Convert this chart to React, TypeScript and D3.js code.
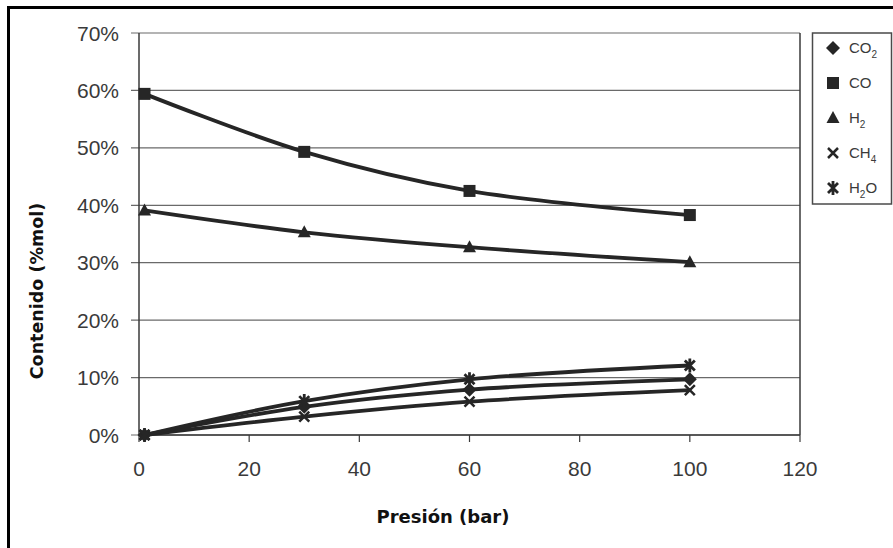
import React from "react";
import * as d3 from "d3";

// presión (bar)
const pressure = [1, 30, 60, 100];
// contenido (%mol)
const co2 = [0, 4.9, 7.9, 9.7];
const co = [59.4, 49.3, 42.5, 38.3];
const h2 = [39.1, 35.3, 32.7, 30.1];
const ch4 = [0, 3.2, 5.8, 7.8];
const h2o = [0, 5.9, 9.7, 12.1];

const xTicks = [0, 20, 40, 60, 80, 100, 120];
const yTicks = [0, 10, 20, 30, 40, 50, 60, 70];

const seriesList = [
  { name: "CO", sub: "2", values: co2, marker: "diamond" },
  { name: "CO", sub: "", values: co, marker: "square" },
  { name: "H", sub: "2", values: h2, marker: "triangle" },
  { name: "CH", sub: "4", values: ch4, marker: "cross" },
  { name: "H", sub: "2", tail: "O", values: h2o, marker: "star" },
];

const ink = "#262626";

const Marker = ({ type, x, y }: { type: string; x: number; y: number }) => {
  if (type === "diamond")
    return <path d="M0,-7L7,0L0,7L-7,0Z" transform={`translate(${x},${y})`} fill={ink} />;
  if (type === "square")
    return <rect x={x - 6} y={y - 6} width={12} height={12} fill={ink} />;
  if (type === "triangle")
    return <path d="M0,-7L6.5,5L-6.5,5Z" transform={`translate(${x},${y})`} fill={ink} />;
  if (type === "cross")
    return (
      <path d="M-5,-5L5,5M-5,5L5,-5" transform={`translate(${x},${y})`} stroke={ink} strokeWidth={2.5} fill="none" />
    );
  return (
    <path
      d="M-5,-5L5,5M-5,5L5,-5M0,-7L0,7"
      transform={`translate(${x},${y})`}
      stroke={ink}
      strokeWidth={2.8}
      fill="none"
    />
  );
};

export default function App() {
  const left = 139, right = 800, top = 33, bottom = 435;
  const x = d3.scaleLinear().domain([0, 120]).range([left, right]);
  const y = d3.scaleLinear().domain([0, 70]).range([bottom, top]);
  const line = d3
    .line<[number, number]>()
    .x((d) => x(d[0]))
    .y((d) => y(d[1]))
    .curve(d3.curveCatmullRom.alpha(0.5));

  const tickFont = { fontFamily: "Liberation Sans, Arial, sans-serif", fontSize: 21, fill: "#3a3a3a" };
  const legendFont = { fontFamily: "Liberation Sans, Arial, sans-serif", fontSize: 15, fill: "#3a3a3a" };

  return (
    <svg width={893} height={548} style={{ position: "absolute", left: 0, top: 0, background: "#fff" }}>
      <rect x={8.5} y={7.5} width={900} height={560} fill="none" stroke="#000" strokeWidth={3} />

      {/* grid + y axis */}
      {yTicks.map((t) => (
        <g key={t}>
          <line x1={131} x2={right} y1={y(t)} y2={y(t)} stroke="#6a6a6a" strokeWidth={1.2} />
          <text x={119} y={y(t)} dy="0.36em" textAnchor="end" {...tickFont}>
            {t}%
          </text>
        </g>
      ))}
      <line x1={left} x2={left} y1={top} y2={bottom} stroke="#3a3a3a" strokeWidth={1.5} />
      <line x1={right} x2={right} y1={top} y2={bottom} stroke="#3a3a3a" strokeWidth={1.5} />
      <line x1={left} x2={right} y1={bottom} y2={bottom} stroke="#3a3a3a" strokeWidth={1.5} />

      {/* x axis */}
      {xTicks.map((t) => (
        <g key={t}>
          <line x1={x(t)} x2={x(t)} y1={bottom} y2={bottom + 7} stroke="#3a3a3a" strokeWidth={1.2} />
          <text x={x(t)} y={468} dy="0.36em" textAnchor="middle" {...tickFont}>
            {t}
          </text>
        </g>
      ))}

      {/* series */}
      {seriesList.map((s, i) => {
        const pts = pressure.map((p, j) => [p, s.values[j]] as [number, number]);
        return (
          <g key={i}>
            <path d={line(pts) || ""} fill="none" stroke={ink} strokeWidth={3.8} />
            {pts.map((p, j) => (
              <Marker key={j} type={s.marker} x={x(p[0])} y={y(p[1])} />
            ))}
          </g>
        );
      })}

      {/* titles */}
      <text
        x={443}
        y={517}
        dy="0.36em"
        textAnchor="middle"
        fontFamily="DejaVu Sans, Verdana, sans-serif"
        fontWeight="bold"
        fontSize={18}
        fill="#111"
      >
        Presión (bar)
      </text>
      <text
        transform="translate(37,291) rotate(-90)"
        dy="0.36em"
        textAnchor="middle"
        fontFamily="DejaVu Sans, Verdana, sans-serif"
        fontWeight="bold"
        fontSize={17.5}
        fill="#111"
      >
        Contenido (%mol)
      </text>

      {/* legend */}
      <rect x={812.5} y={33} width={79} height={171} fill="#fff" stroke="#4a4a4a" strokeWidth={1.5} />
      {seriesList.map((s, i) => {
        const ly = 48 + i * 35;
        return (
          <g key={i}>
            <Marker type={s.marker} x={833} y={ly} />
            <text x={849} y={ly} dy="0.36em" {...legendFont}>
              {s.name}
              {s.sub && (
                <tspan fontSize={10} dy={5}>
                  {s.sub}
                </tspan>
              )}
              {s.tail && <tspan dy={-5}>{s.tail}</tspan>}
            </text>
          </g>
        );
      })}
    </svg>
  );
}
